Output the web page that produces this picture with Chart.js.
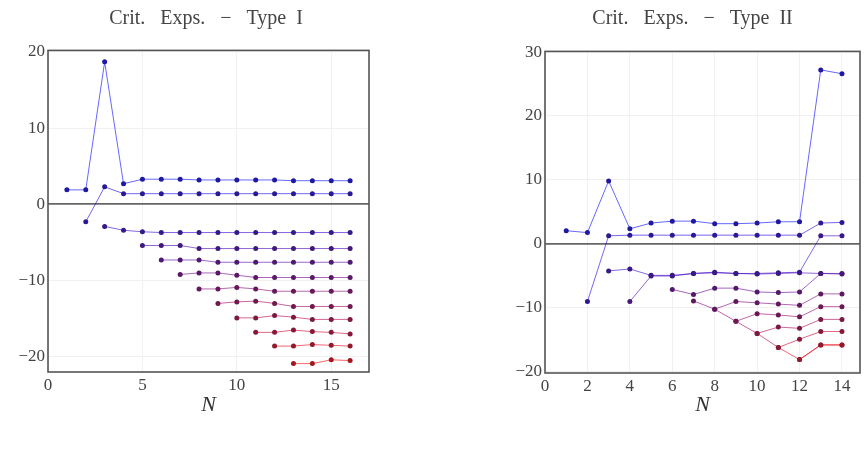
<!DOCTYPE html>
<html>
<head>
<meta charset="utf-8">
<script src="https://cdn.jsdelivr.net/npm/chart.js@4.4.1/dist/chart.umd.min.js"></script>
<style>
  body { margin: 0; background: #fff; }
  .panel { position: absolute; top: 0; width: 432px; height: 450px; }
</style>
</head>
<body>
<div class="panel" style="left:0"><canvas id="typeOneChart" width="432" height="450"></canvas></div>
<div class="panel" style="left:432px"><canvas id="typeTwoChart" width="432" height="450"></canvas></div>
<script>
// Type I: N = 1..16, one list per critical exponent (null = not present yet)
const nTypeOne = [1, 2, 3, 4, 5, 6, 7, 8, 9, 10, 11, 12, 13, 14, 15, 16];
const typeOne1  = [1.9, 1.9, 18.7, 2.7, 3.3, 3.3, 3.3, 3.2, 3.2, 3.2, 3.2, 3.2, 3.1, 3.1, 3.1, 3.1];
const typeOne2  = [null, -2.3, 2.3, 1.4, 1.4, 1.4, 1.4, 1.4, 1.4, 1.4, 1.4, 1.4, 1.4, 1.4, 1.4, 1.4];
const typeOne3  = [null, null, -2.9, -3.4, -3.6, -3.7, -3.7, -3.7, -3.7, -3.7, -3.7, -3.7, -3.7, -3.7, -3.7, -3.7];
const typeOne4  = [null, null, null, null, -5.4, -5.4, -5.4, -5.8, -5.8, -5.8, -5.8, -5.8, -5.8, -5.8, -5.8, -5.8];
const typeOne5  = [null, null, null, null, null, -7.3, -7.3, -7.3, -7.6, -7.6, -7.6, -7.6, -7.6, -7.6, -7.6, -7.6];
const typeOne6  = [null, null, null, null, null, null, -9.2, -9.0, -9.0, -9.3, -9.6, -9.6, -9.6, -9.6, -9.6, -9.6];
const typeOne7  = [null, null, null, null, null, null, null, -11.1, -11.1, -10.9, -11.1, -11.4, -11.4, -11.4, -11.4, -11.4];
const typeOne8  = [null, null, null, null, null, null, null, null, -13.0, -12.8, -12.7, -13.0, -13.4, -13.4, -13.4, -13.4];
const typeOne9  = [null, null, null, null, null, null, null, null, null, -14.9, -14.9, -14.6, -14.8, -15.1, -15.1, -15.1];
const typeOne10 = [null, null, null, null, null, null, null, null, null, null, -16.8, -16.8, -16.5, -16.7, -16.8, -17.0];
const typeOne11 = [null, null, null, null, null, null, null, null, null, null, null, -18.6, -18.6, -18.4, -18.5, -18.6];
const typeOne12 = [null, null, null, null, null, null, null, null, null, null, null, null, -20.9, -20.9, -20.4, -20.5];

// Type II: N = 1..14
const nTypeTwo = [1, 2, 3, 4, 5, 6, 7, 8, 9, 10, 11, 12, 13, 14];
const typeTwo1  = [2.0, 1.7, 9.8, 2.3, 3.2, 3.5, 3.5, 3.1, 3.1, 3.2, 3.4, 3.4, 27.2, 26.6];
const typeTwo2  = [null, -9.1, 1.2, 1.3, 1.3, 1.3, 1.3, 1.3, 1.3, 1.3, 1.3, 1.3, 3.2, 3.3];
const typeTwo3  = [null, null, -4.3, -4.0, -5.0, -5.0, -4.7, -4.5, -4.7, -4.7, -4.6, -4.5, 1.2, 1.2];
const typeTwo4  = [null, null, null, -9.1, -5.1, -5.1, -4.7, -4.6, -4.7, -4.8, -4.7, -4.6, -4.7, -4.8];
const typeTwo5  = [null, null, null, null, null, -7.2, -8.0, -7.0, -7.0, -7.6, -7.7, -7.6, -4.7, -4.7];
const typeTwo6  = [null, null, null, null, null, null, -9.0, -10.3, -9.1, -9.3, -9.5, -9.7, -7.9, -7.9];
const typeTwo7  = [null, null, null, null, null, null, null, -10.3, -12.2, -11.0, -11.2, -11.5, -9.9, -9.9];
const typeTwo8  = [null, null, null, null, null, null, null, null, -12.2, -14.1, -13.1, -13.3, -11.9, -11.9];
const typeTwo9  = [null, null, null, null, null, null, null, null, null, -14.1, -16.3, -15.0, -13.8, -13.8];
const typeTwo10 = [null, null, null, null, null, null, null, null, null, null, -16.3, -18.2, -15.9, -15.9];
const typeTwo11 = [null, null, null, null, null, null, null, null, null, null, null, -18.2, -15.9, -15.9];

const serif = "'Liberation Serif', 'DejaVu Serif', serif";

// frame around the plot area, like a Mathematica Frame -> True
const framePlugin = {
    id: "frame",
    afterDraw(chart) {
        const a = chart.chartArea;
        const ctx = chart.ctx;
        ctx.save();
        ctx.strokeStyle = "#555";
        ctx.lineWidth = 1.6;
        ctx.strokeRect(a.left, a.top, a.right - a.left, a.bottom - a.top);
        ctx.restore();
    }
};

document.addEventListener("DOMContentLoaded", function () {
    // trailing spaces nudge the centred title a little to the left, as in the original
    drawPanel("typeOneChart", "Crit.   Exps.   \u2212   Type  I ", nTypeOne,
        [typeOne1, typeOne2, typeOne3, typeOne4, typeOne5, typeOne6,
         typeOne7, typeOne8, typeOne9, typeOne10, typeOne11, typeOne12],
        { xMax: 17, xStep: 5, yMin: -22, yMax: 20.2,
          padRight: 63, yWidth: 48, titleBottom: 19.4, xHeight: 78 });

    drawPanel("typeTwoChart", "Crit.   Exps.   \u2212   Type  II    ", nTypeTwo,
        [typeTwo1, typeTwo2, typeTwo3, typeTwo4, typeTwo5, typeTwo6,
         typeTwo7, typeTwo8, typeTwo9, typeTwo10, typeTwo11],
        { xMax: 14.85, xStep: 2, yMin: -20.3, yMax: 30.1,
          padRight: 2, yWidth: 113, titleBottom: 20.4, xHeight: 77 });
});

// Blue -> Red blend over the series index
function seriesColor(i, count, alpha) {
    const t = count > 1 ? i / (count - 1) : 0;
    const r = Math.round(255 * t), b = Math.round(255 * (1 - t));
    return `rgba(${r},0,${b},${alpha})`;
}

function pointColor(i, count) {
    const t = count > 1 ? i / (count - 1) : 0;
    const r = Math.round(30 + 130 * t), b = Math.round(30 + 130 * (1 - t));
    return `rgb(${r},25,${b})`;
}

function drawPanel(canvasId, title, nValues, seriesList, opt) {
    const datasets = seriesList.map((values, i) => {
        const points = [];
        values.forEach((v, k) => {
            if (v !== null) points.push({ x: nValues[k], y: v });
        });
        return {
            data: points,
            borderColor: seriesColor(i, seriesList.length, 0.6),
            borderWidth: 1,
            pointRadius: 2.5,
            pointBorderWidth: 0,
            pointBackgroundColor: pointColor(i, seriesList.length),
            tension: 0
        };
    });

    const minus = v => String(v).replace("-", "\u2212");

    new Chart(document.getElementById(canvasId), {
        type: "line",
        data: { datasets: datasets },
        options: {
            responsive: false,
            animation: false,
            layout: { padding: { left: 0, right: opt.padRight, top: 0, bottom: 0 } },
            plugins: {
                legend: { display: false },
                tooltip: { enabled: false },
                title: {
                    display: true,
                    fullSize: false,
                    text: title,
                    color: "#444",
                    font: { family: serif, size: 20, weight: "normal" },
                    padding: { top: 7, bottom: opt.titleBottom }
                }
            },
            scales: {
                x: {
                    type: "linear",
                    min: 0,
                    max: opt.xMax,
                    border: { display: false },
                    grid: { color: "#f1f1f1", drawTicks: false },
                    ticks: {
                        stepSize: opt.xStep,
                        includeBounds: false,
                        padding: 3,
                        color: "#444",
                        font: { family: serif, size: 17 },
                        callback: minus
                    },
                    title: {
                        display: true,
                        text: "N",
                        color: "#333",
                        font: { family: serif, size: 22, style: "italic" },
                        padding: { top: 0, bottom: 31.8 }
                    },
                    afterFit: scale => { scale.height = opt.xHeight; }
                },
                y: {
                    min: opt.yMin,
                    max: opt.yMax,
                    border: { display: false },
                    grid: {
                        drawTicks: false,
                        color: ctx => (ctx.tick && ctx.tick.value === 0) ? "#666" : "#f1f1f1",
                        lineWidth: ctx => (ctx.tick && ctx.tick.value === 0) ? 1.8 : 1
                    },
                    ticks: {
                        stepSize: 10,
                        includeBounds: false,
                        padding: 3,
                        color: "#444",
                        font: { family: serif, size: 17 },
                        callback: minus
                    },
                    afterFit: scale => { scale.width = opt.yWidth; }
                }
            }
        },
        plugins: [framePlugin]
    });
}
</script>
</body>
</html>
